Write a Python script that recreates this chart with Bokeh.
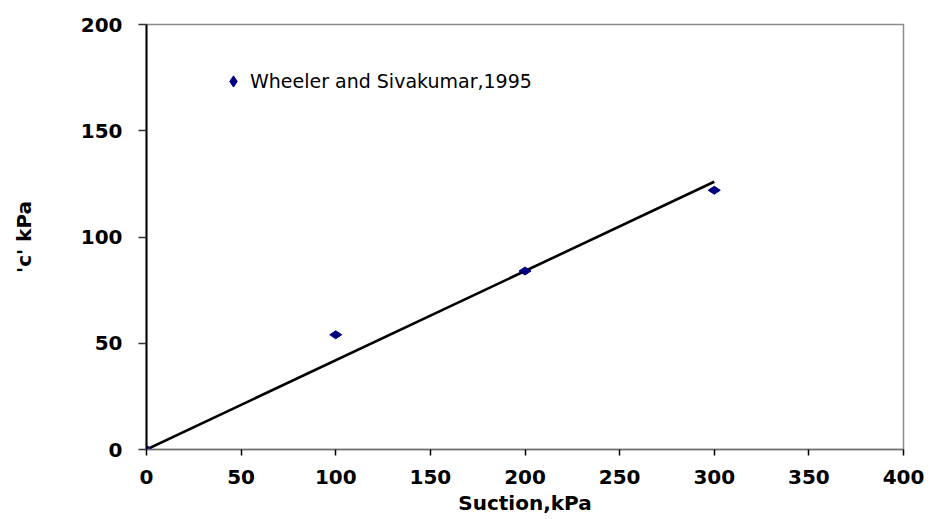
import math
from bokeh.plotting import figure
from bokeh.models import ColumnDataSource, Legend, LegendItem, FixedTicker, Range1d
from bokeh.embed import file_html
from bokeh.resources import INLINE

# data
suction = [0, 100, 200, 300]
cohesion = [0, 54, 84, 122]
trend_x = [0, 300]
trend_y = [0, 126]
x_ticks = [0, 50, 100, 150, 200, 250, 300, 350, 400]
y_ticks = [0, 50, 100, 150, 200]
series_name = "Wheeler and Sivakumar,1995"
x_title = "Suction,kPa"
y_title = "'c' kPa"

p = figure(width=924, height=519, output_backend="svg", toolbar_location=None,
           x_range=Range1d(0, 400), y_range=Range1d(0, 200),
           min_border_left=146, min_border_top=24, min_border_right=21, min_border_bottom=70)
p.grid.visible = False
p.background_fill_color = "white"
p.border_fill_color = "white"
p.outline_line_color = "#8c8c8c"
p.outline_line_width = 1.5

FONT = "DejaVu Sans"

xa = p.xaxis[0]
xa.ticker = FixedTicker(ticks=x_ticks)
xa.axis_line_color = "#707070"
xa.axis_line_width = 1.5
xa.major_tick_line_color = "black"
xa.major_tick_line_width = 1.5
xa.major_tick_out = 6
xa.major_tick_in = 0
xa.minor_tick_line_color = None
xa.major_label_text_font = FONT
xa.major_label_text_font_style = "bold"
xa.major_label_text_font_size = "20px"
xa.major_label_text_color = "black"
xa.major_label_standoff = 14
xa.axis_label = x_title
xa.axis_label_text_font = FONT
xa.axis_label_text_font_style = "bold"
xa.axis_label_text_font_size = "20px"
xa.axis_label_text_color = "black"
xa.axis_label_standoff = 4

ya = p.yaxis[0]
ya.ticker = FixedTicker(ticks=y_ticks)
ya.axis_line_color = "black"
ya.axis_line_width = 2
ya.major_tick_line_color = "#303030"
ya.major_tick_line_width = 1.5
ya.major_tick_out = 8
ya.major_tick_in = 0
ya.minor_tick_line_color = None
ya.major_label_text_font = FONT
ya.major_label_text_font_style = "bold"
ya.major_label_text_font_size = "20px"
ya.major_label_text_color = "black"
ya.major_label_standoff = 16
ya.axis_label = y_title
ya.axis_label_text_font = FONT
ya.axis_label_text_font_style = "bold"
ya.axis_label_text_font_size = "20px"
ya.axis_label_text_color = "black"
ya.axis_label_standoff = 42

p.line(trend_x, trend_y, line_color="black", line_width=2.6)

src = ColumnDataSource(dict(x=suction, y=cohesion))
r = p.scatter("x", "y", source=src, marker="diamond", size=12, angle=math.pi / 2,
              fill_color="#000080", line_color="#000080")

legend = Legend(items=[LegendItem(label=series_name, renderers=[r])],
                location=(73, 354), orientation="vertical")
legend.border_line_alpha = 0
legend.background_fill_alpha = 0
legend.padding = 0
legend.margin = 0
legend.glyph_width = 28
legend.glyph_height = 28
legend.label_standoff = 3
legend.label_text_font = FONT
legend.label_text_font_size = "19px"
legend.label_text_color = "black"
p.add_layout(legend, "center")

open("out.html", "w").write(file_html(p, INLINE))
